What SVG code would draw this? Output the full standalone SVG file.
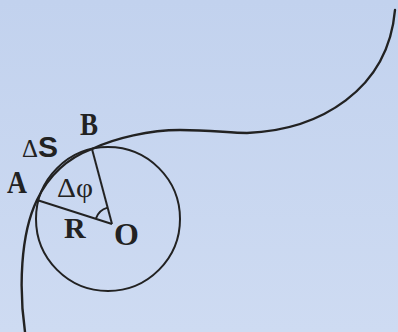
<svg xmlns="http://www.w3.org/2000/svg" width="398" height="332" viewBox="0 0 398 332">
<defs>
<linearGradient id="bg" x1="0" y1="0" x2="0" y2="1">
<stop offset="0" stop-color="#c2d2ee"/>
<stop offset="1" stop-color="#cedbf2"/>
</linearGradient>
<style>
.ln{fill:none;stroke:#222;stroke-width:2.4;stroke-linecap:round}
.thin{fill:none;stroke:#222;stroke-width:2}
.lb{font-family:"Liberation Serif",serif;font-weight:bold;fill:#222}
.ls{font-family:"Liberation Sans",sans-serif;font-weight:bold;fill:#222}
.lr{font-family:"Liberation Serif",serif;fill:#222}
</style>
</defs>
<rect width="398" height="332" fill="url(#bg)"/>
<g id="connectors">
<path class="ln" d="M25,332 C19,290 20,235 37,200 C49,175 68,158 92,149 C115,138 150,130 180,130 C210,130 230,133 247,133 C320,130 388,90 395,10"/>
<circle class="thin" cx="108" cy="219" r="72"/>
<line class="thin" x1="37" y1="200" x2="112" y2="224"/>
<line class="thin" x1="92" y1="149" x2="112" y2="224"/>
<path class="thin" d="M95.8,218.8 A17,17 0 0 1 107.6,207.6"/>
</g>
<g id="labels">
<text class="lb" x="80" y="135" font-size="32" textLength="18" lengthAdjust="spacingAndGlyphs">B</text>
<text class="lr" x="22" y="157" font-size="25" textLength="16" lengthAdjust="spacingAndGlyphs">Δ</text>
<text class="ls" x="38" y="157" font-size="30">S</text>
<text class="lb" x="7" y="193" font-size="31" textLength="20" lengthAdjust="spacingAndGlyphs">A</text>
<text class="lr" x="57" y="197" font-size="27" textLength="36" lengthAdjust="spacingAndGlyphs">Δφ</text>
<text class="lb" x="64" y="238" font-size="30">R</text>
<text class="lb" x="114" y="245" font-size="32">O</text>
</g>
</svg>
